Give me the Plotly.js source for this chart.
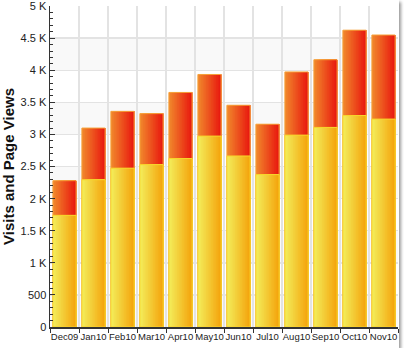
<!DOCTYPE html>
<html>
<head>
<meta charset="utf-8">
<script src="https://cdn.plot.ly/plotly-3.0.1.min.js"></script>
<style>
  html, body { margin: 0; padding: 0; background: #ffffff; }
  #chart { width: 399px; height: 348px; box-shadow: 2px 2px 3px #9a9a9a; }
</style>
</head>
<body>
<div id="chart"></div>
<script>
// ---- data ----
var months = ["Dec09","Jan10","Feb10","Mar10","Apr10","May10","Jun10","Jul10","Aug10","Sep10","Oct10","Nov10"];
var pageViews = [2280, 3100, 3360, 3325, 3655, 3935, 3455, 3160, 3975, 4165, 4625, 4550];
var visits = [1740, 2295, 2475, 2530, 2625, 2975, 2665, 2375, 2990, 3110, 3295, 3240];
var yTickVals = [0, 500, 1000, 1500, 2000, 2500, 3000, 3500, 4000, 4500, 5000];
var yTickText = ["0", "500", "1 K", "1.5 K", "2 K", "2.5 K", "3 K", "3.5 K", "4 K", "4.5 K", "5 K"];

// ---- gradient helpers ----
function hex2rgb(h){ return [parseInt(h.substr(1,2),16), parseInt(h.substr(3,2),16), parseInt(h.substr(5,2),16)]; }
function mix(a, b, t){
  var A = hex2rgb(a), B = hex2rgb(b);
  return 'rgb(' + [0,1,2].map(function(i){ return Math.round(A[i] + (B[i]-A[i])*t); }).join(',') + ')';
}
var N = 14, W = 0.8;
var traces = [];
function addGradient(vals, c0, c1){
  for (var k = 0; k < N; k++){
    traces.push({
      type: 'bar', x: months, y: vals,
      width: W - k * W / N, offset: -W/2 + k * W / N,
      marker: { color: mix(c0, c1, (k + 0.5) / N), line: { width: 0 } },
      hoverinfo: 'skip', showlegend: false
    });
  }
}
function addOutline(vals, col){
  traces.push({
    type: 'bar', x: months, y: vals, width: W, offset: -W/2,
    marker: { color: 'rgba(0,0,0,0)', line: { width: 1, color: col } },
    hoverinfo: 'skip', showlegend: false
  });
}
addGradient(pageViews, '#f18a2c', '#e8150f');
addOutline(pageViews, '#f6a23a');
addGradient(visits, '#f3ee5c', '#f4a20a');
addOutline(visits, '#f8d52a');

// alternating bands
var shapes = [];
for (var i = 0; i < yTickVals.length - 1; i += 2) {
  shapes.push({ type: 'rect', xref: 'paper', yref: 'y', x0: 0, x1: 1,
    y0: yTickVals[i], y1: yTickVals[i+1], fillcolor: '#f9f9f9', line: { width: 0 }, layer: 'below' });
}

var layout = {
  width: 399, height: 348,
  margin: { l: 50, r: 1, t: 6, b: 21 },
  paper_bgcolor: '#ffffff', plot_bgcolor: 'rgba(0,0,0,0)',
  barmode: 'overlay',
  font: { family: 'Liberation Sans, Arial, sans-serif', color: '#222' },
  shapes: shapes,
  xaxis: {
    type: 'category', tickson: 'boundaries', ticks: 'outside', ticklen: 4, tickcolor: '#333',
    showgrid: true, gridcolor: '#e3e3e3', gridwidth: 1.5,
    showline: true, linecolor: '#333', linewidth: 1.5,
    tickangle: 0, automargin: false,
    tickfont: { size: 9.5, color: '#222' }, range: [-0.5, 11.5], fixedrange: true
  },
  yaxis: {
    range: [0, 5002], tickvals: yTickVals, ticktext: yTickText,
    ticks: 'inside', ticklen: 5, tickcolor: '#333',
    minor: { dtick: 100, ticks: 'inside', ticklen: 3, tickcolor: '#333', showgrid: false },
    showgrid: true, gridcolor: '#e3e3e3', gridwidth: 1.5, zeroline: false,
    showline: true, linecolor: '#333', linewidth: 1.5,
    tickfont: { size: 11, color: '#222' }, automargin: false, ticklabeloverflow: 'allow',
    title: { text: 'Visits and Page Views', font: { size: 15, color: '#111', weight: 'bold' }, standoff: 6 },
    fixedrange: true
  },
  showlegend: false
};

Plotly.newPlot('chart', traces, layout, { displayModeBar: false, staticPlot: true });
</script>
</body>
</html>
